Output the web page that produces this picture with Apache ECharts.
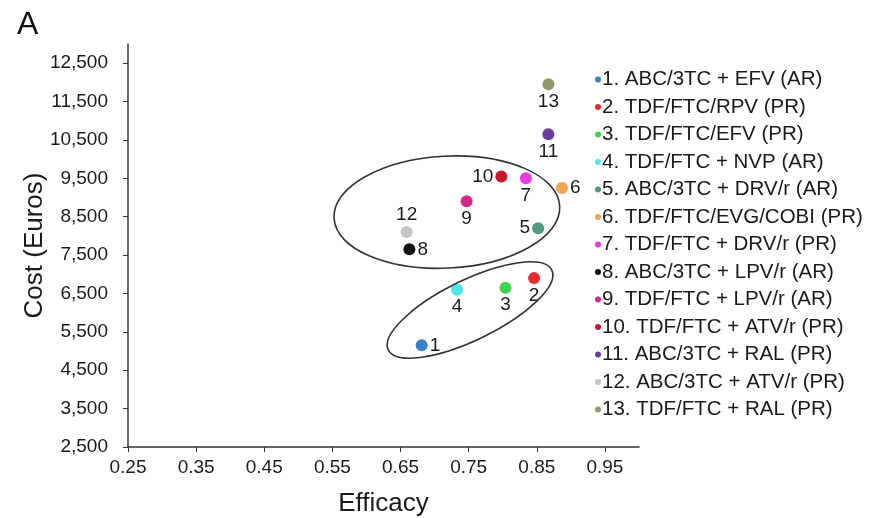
<!DOCTYPE html>
<html>
<head>
<meta charset="utf-8">
<script src="https://cdn.jsdelivr.net/npm/echarts@6/dist/echarts.min.js"></script>
<style>
html,body{margin:0;padding:0;background:#fff;}
#chart{width:883px;height:518px;}
</style>
</head>
<body>
<div id="chart"></div>
<script>
// ---- data ----
const categories = [
  '1. ABC/3TC + EFV (AR)',
  '2. TDF/FTC/RPV (PR)',
  '3. TDF/FTC/EFV (PR)',
  '4. TDF/FTC + NVP (AR)',
  '5. ABC/3TC + DRV/r (AR)',
  '6. TDF/FTC/EVG/COBI (PR)',
  '7. TDF/FTC + DRV/r (PR)',
  '8. ABC/3TC + LPV/r (AR)',
  '9. TDF/FTC + LPV/r (AR)',
  '10. TDF/FTC + ATV/r (PR)',
  '11. ABC/3TC + RAL (PR)',
  '12. ABC/3TC + ATV/r (PR)',
  '13. TDF/FTC + RAL (PR)'
];
const pointLabels = ['1','2','3','4','5','6','7','8','9','10','11','12','13'];
const efficacy = [0.681, 0.846, 0.804, 0.733, 0.852, 0.887, 0.834, 0.663, 0.747, 0.798, 0.867, 0.659, 0.867];
const cost = [5150, 6900, 6650, 6600, 8200, 9250, 9500, 7650, 8900, 9550, 10650, 8100, 11950];
const xTicks = [0.25, 0.35, 0.45, 0.55, 0.65, 0.75, 0.85, 0.95];
const yTicks = [2500, 3500, 4500, 5500, 6500, 7500, 8500, 9500, 10500, 11500, 12500];

// ---- styles ----
const colors = ['#3b7fc4', '#e82a2e', '#3dd64a', '#4ee6e6', '#4f9c7c', '#f2a456', '#e53be0',
                '#111111', '#d3278e', '#c8162e', '#6a3f9c', '#c4c4c4', '#8e9a6c'];
const labelPos = ['right', 'bottom', 'bottom', 'bottom', 'left', 'right', 'bottom',
                  'right', 'bottom', 'left', 'bottom', 'top', 'bottom'];
// ellipse annotations: center in data coords, radii in px, rotation in degrees (anticlockwise)
const ellipses = [
  { cx: 0.718, cy: 8620, rx: 113, ry: 56, rot: 3 },
  { cx: 0.752, cy: 6068, rx: 91, ry: 30, rot: 26 }
];

const fontFam = 'Liberation Sans, Arial, sans-serif';
const chart = echarts.init(document.getElementById('chart'));

const series = categories.map((name, i) => ({
  name: name,
  type: 'scatter',
  symbolSize: 12,
  itemStyle: { color: colors[i], opacity: 1 },
  label: {
    show: true,
    position: labelPos[i],
    distance: 2,
    formatter: () => pointLabels[i],
    color: '#1a1a1a',
    fontSize: 19,
    fontFamily: fontFam
  },
  data: [[efficacy[i], cost[i]]],
  z: 3
}));

const option = {
  animation: false,
  backgroundColor: '#fff',
  color: colors,
  title: {
    text: 'A', left: 12, top: 4,
    textStyle: { fontSize: 32, fontWeight: 'normal', color: '#111', fontFamily: fontFam }
  },
  grid: { left: 128, right: 244, top: 44, bottom: 71, outerBoundsMode: 'none', containLabel: false },
  legend: {
    orient: 'vertical',
    left: 590,
    top: 64,
    icon: 'circle',
    itemWidth: 6,
    itemHeight: 6,
    itemGap: 6.5,
    textStyle: { fontSize: 20.5, color: '#1a1a1a', fontFamily: fontFam, padding: [0, 0, 0, -4] },
    data: categories
  },
  xAxis: {
    type: 'value',
    min: 0.25, max: 1.0,
    name: 'Efficacy',
    nameLocation: 'middle',
    nameGap: 44,
    nameMoveOverlap: false,
    nameTextStyle: { fontSize: 26, color: '#1a1a1a', fontFamily: fontFam },
    splitLine: { show: false },
    axisLine: { show: true, lineStyle: { color: '#333', width: 1.5 } },
    axisTick: { show: true, length: 5, customValues: xTicks, lineStyle: { color: '#333' } },
    axisLabel: {
      customValues: xTicks,
      formatter: v => v.toFixed(2),
      fontSize: 19, color: '#1a1a1a', fontFamily: fontFam, margin: 11
    }
  },
  yAxis: {
    type: 'value',
    min: 2500, max: 13000,
    name: 'Cost (Euros)',
    nameLocation: 'middle',
    nameGap: 80,
    nameMoveOverlap: false,
    nameTextStyle: { fontSize: 26, color: '#1a1a1a', fontFamily: fontFam },
    splitLine: { show: false },
    axisLine: { show: true, lineStyle: { color: '#333', width: 1.5 } },
    axisTick: { show: true, length: 5, customValues: yTicks, lineStyle: { color: '#333' } },
    axisLabel: {
      customValues: yTicks,
      formatter: v => v.toLocaleString('en-US'),
      fontSize: 19, color: '#1a1a1a', fontFamily: fontFam, margin: 20
    }
  },
  series: series
};
chart.setOption(option);

function drawEllipses() {
  const els = ellipses.map(e => {
    const p = chart.convertToPixel({ gridIndex: 0 }, [e.cx, e.cy]);
    return {
      type: 'ellipse',
      x: p[0], y: p[1],
      rotation: e.rot * Math.PI / 180,
      shape: { cx: 0, cy: 0, rx: e.rx, ry: e.ry },
      style: { fill: null, stroke: '#333', lineWidth: 1.6 },
      z: 10, silent: true
    };
  });
  chart.setOption({ graphic: els });
}
drawEllipses();
</script>
</body>
</html>
